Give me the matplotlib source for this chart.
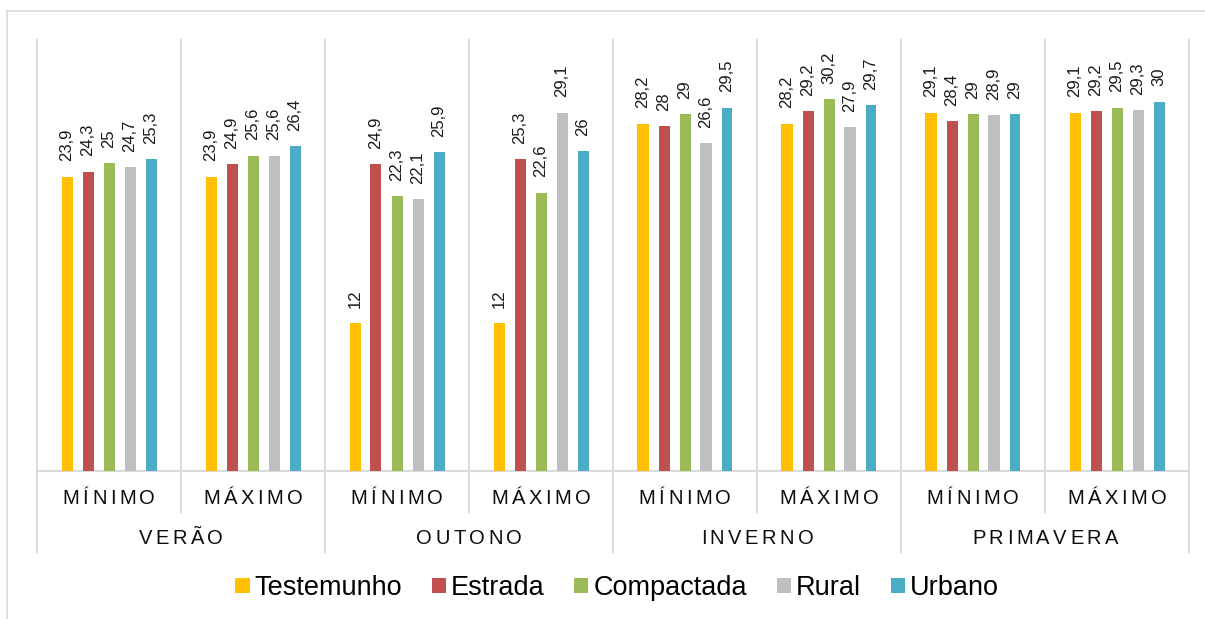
import matplotlib.pyplot as plt
import numpy as np
from matplotlib.lines import Line2D
from matplotlib.patches import Patch

plt.rcParams['font.family'] = ['Liberation Sans', 'DejaVu Sans']

# temperatures per season, minimum / maximum, for each surface
seasons = ['VERÃO', 'OUTONO', 'INVERNO', 'PRIMAVERA']
subcats = ['MÍNIMO', 'MÁXIMO']
series = ['Testemunho', 'Estrada', 'Compactada', 'Rural', 'Urbano']
colors = ['#FFC000', '#C0504D', '#9BBB59', '#BFBFBF', '#4BACC6']

testemunho = [23.9, 23.9, 12, 12, 28.2, 28.2, 29.1, 29.1]
estrada = [24.3, 24.9, 24.9, 25.3, 28, 29.2, 28.4, 29.2]
compactada = [25, 25.6, 22.3, 22.6, 29, 30.2, 29, 29.5]
rural = [24.7, 25.6, 22.1, 29.1, 26.6, 27.9, 28.9, 29.3]
urbano = [25.3, 26.4, 25.9, 26, 29.5, 29.7, 29, 30]
values = [testemunho, estrada, compactada, rural, urbano]

W, H = 1205, 619
fig = plt.figure(figsize=(W / 100, H / 100), dpi=100)
ax = fig.add_axes([37 / W, 1 - 471 / H, (1189 - 37) / W, 431 / H])

grid_c = '#D9D9D9'


def fmt(v):
    return ('%g' % v).replace('.', ',')


ngroups = len(seasons) * len(subcats)
centers = np.arange(ngroups) + 0.5
step = 21 / 144
width = 11 / 144
for i, (name, vals, c) in enumerate(zip(series, values, colors)):
    xs = centers + (i - 2) * step
    ax.bar(xs, vals, width=width, color=c, label=name, zorder=3)
    for x, v in zip(xs, vals):
        ax.annotate(fmt(v), (x, v), xytext=(0, 11), textcoords='offset points',
                    rotation=90, ha='center', va='bottom', fontsize=12,
                    color='#1A1A1A')

ax.set_xlim(0, ngroups)
ax.set_ylim(0, 35)
ax.set_yticks([])
ax.set_xticks([])
for s in ['left', 'right', 'top']:
    ax.spines[s].set_visible(False)
ax.spines['bottom'].set_color(grid_c)
ax.spines['bottom'].set_linewidth(1.5)

# vertical separators: short ones between min/max, long ones between seasons
for k in range(ngroups + 1):
    y0 = (471 - 552) / 431 if k % 2 == 0 else (471 - 512) / 431
    ax.plot([k, k], [y0, 1], color=grid_c, lw=1.4,
            transform=ax.get_xaxis_transform(), clip_on=False, zorder=1)

renderer = fig.canvas.get_renderer()


def spaced_text(xc_px, yc_px, s, size, gap):
    texts = [fig.text(0, 0, ch, fontsize=size, ha='left', va='center',
                      color='#0D0D0D') for ch in s]
    widths = [t.get_window_extent(renderer).width for t in texts]
    total = sum(widths) + gap * (len(s) - 1)
    x = xc_px - total / 2
    for t, w in zip(texts, widths):
        t.set_position((x / W, 1 - yc_px / H))
        x += w + gap


def data_to_px(x):
    return ax.transData.transform((x, 0))[0]


for k in range(ngroups):
    spaced_text(data_to_px(centers[k]), 498, subcats[k % 2], 14.5, 3.5)
for j, s in enumerate(seasons):
    spaced_text(data_to_px(2 * j + 1), 539, s, 14.5, 3.5)

# outer chart border
fig.add_artist(Line2D([7 / W, 7 / W], [0, 1 - 11 / H], color=grid_c, lw=1.2))
fig.add_artist(Line2D([7 / W, 1], [1 - 11 / H, 1 - 11 / H], color=grid_c, lw=1.2))

handles = [Patch(facecolor=c, label=n) for n, c in zip(series, colors)]
fig.legend(handles=handles, loc='center', bbox_to_anchor=(617 / W, 1 - 588 / H),
           ncol=5, frameon=False, fontsize=19.5, handlelength=0.52,
           handleheight=0.52, handletextpad=0.18, columnspacing=1.1,
           borderpad=0, borderaxespad=0)

fig.savefig('out.png', dpi=100)
